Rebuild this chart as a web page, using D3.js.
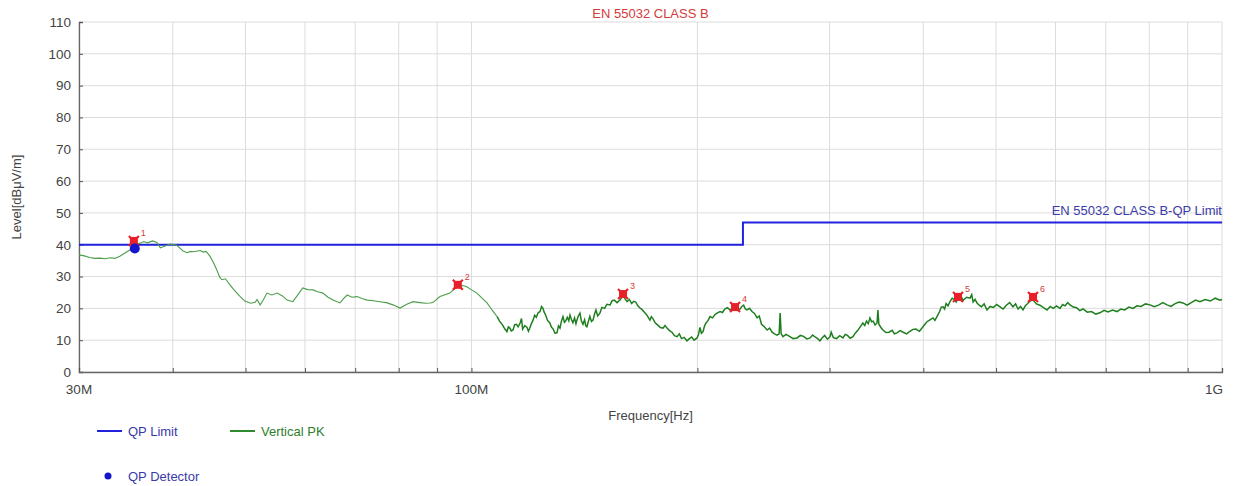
<!DOCTYPE html>
<html><head><meta charset="utf-8">
<script src="https://cdn.jsdelivr.net/npm/d3@7"></script>
<style>
body{margin:0;background:#fff;}
text{font-family:"Liberation Sans",Arial,sans-serif;}
</style></head>
<body><svg id="c" width="1239" height="486"></svg>
<script>
// ---- data ----
const titleText = "EN 55032 CLASS B";
const limitLabel = "EN 55032 CLASS B-QP Limit";
const yTicks = [0,10,20,30,40,50,60,70,80,90,100,110];
const xGridMHz = [30,40,50,60,70,80,90,100,200,300,400,500,600,700,800,900,1000];
const xTickLabels = [[30,"30M"],[100,"100M"],[1000,"1G"]];
const qpLimit = [[30,40],[230,40],[230,47],[1000,47]];
const qpDetector = [[35.6,38.8]];
const peakMarkers = [[35.5,41.2,"1"],[95.9,27.4,"2"],[159.2,24.5,"3"],[224.5,20.4,"4"],[444.9,23.6,"5"],[560.0,23.6,"6"]];
const verticalPK = [
[30.0,36.8],[30.5,36.5],[31.0,36.0],[31.5,35.7],[32.0,35.8],[32.5,35.6],[33.0,35.9],[33.5,35.7],[34.0,36.4],[34.5,37.3],
[35.1,38.4],[35.6,40.0],[36.2,40.5],[36.6,41.0],[37.0,40.6],[37.6,41.2],[38.1,40.7],[38.5,39.0],[39.1,39.6],[39.7,40.2],
[40.5,39.8],[41.3,38.0],[41.8,37.5],[42.2,37.9],[42.6,37.8],[43.5,38.2],[43.9,37.7],[44.3,37.9],[44.8,36.5],[45.3,34.5],
[45.8,32.0],[46.2,29.8],[46.5,29.0],[47.0,29.3],[47.7,27.3],[48.2,26.0],[48.7,24.8],[49.2,23.7],[49.9,22.3],[50.2,22.1],
[50.8,21.6],[51.5,21.9],[51.8,22.8],[52.3,21.1],[52.8,22.6],[53.4,24.8],[54.2,24.2],[55.1,24.8],[56.0,23.9],[56.8,22.6],
[57.8,22.1],[58.6,24.0],[59.6,26.4],[60.5,25.9],[61.5,25.8],[62.4,25.2],[63.4,24.8],[64.4,23.5],[65.4,22.6],[66.8,21.7],
[67.5,23.0],[68.3,24.2],[69.3,23.5],[70.4,23.7],[71.5,23.1],[72.6,22.6],[74.0,22.4],[75.5,22.1],[77.0,21.8],[78.6,21.1],
[80.3,20.1],[82.0,21.3],[83.6,22.1],[85.4,21.8],[86.8,21.6],[88.1,21.7],[88.9,21.9],[90.8,23.7],[92.2,24.3],[93.6,24.8],
[95.0,26.2],[96.0,27.0],[97.3,27.2],[98.6,26.8],[100.0,25.8],[101.7,24.8],[103.3,23.2],[104.9,21.7],[106.5,19.5],
[108.2,17.4],[109.0,16.0],[110.0,14.8],[110.8,13.5],[111.5,12.7],[112.0,14.2],[112.5,13.8],[113.0,12.9],[113.6,13.2],[114.2,14.9],
[114.8,15.0],[115.4,14.2],[116.1,15.4],[116.6,16.8],[117.0,13.5],[117.8,14.6],[118.6,14.0],[119.1,12.8],[119.5,13.6],[120.2,15.2],
[120.8,16.3],[121.4,17.8],[122.0,17.2],[122.7,18.6],[123.4,19.0],[124.0,20.6],[124.5,20.1],[125.0,18.8],[125.5,18.0],[126.3,16.2],
[127.2,15.4],[127.8,14.1],[128.5,13.5],[129.2,12.2],[130.0,12.3],[130.6,14.5],[131.2,13.8],[131.8,16.0],[132.4,17.4],[133.0,15.6],
[133.5,16.0],[134.2,17.2],[134.8,16.1],[135.3,17.9],[135.9,16.5],[136.5,15.5],[137.2,17.0],[137.8,15.2],[138.2,16.3],[138.8,17.6],
[139.5,18.5],[140.1,16.1],[140.8,15.0],[141.5,16.4],[142.0,14.6],[142.5,14.2],[143.1,15.8],[143.8,17.5],[144.5,15.9],[145.2,16.3],
[145.8,18.0],[146.5,19.5],[147.3,17.6],[148.3,18.5],[149.2,20.3],[150.5,20.0],[151.5,21.3],[153.0,21.1],[154.0,22.4],[155.0,22.6],
[156.3,21.8],[157.7,22.6],[158.5,23.4],[159.2,24.2],[160.2,23.0],[161.2,22.1],[162.3,22.8],[163.5,21.5],[164.5,22.2],[165.5,22.0],
[166.6,20.8],[167.7,20.1],[168.8,19.6],[170.0,18.8],[171.4,17.8],[172.9,16.3],[173.7,17.4],[174.5,16.8],[175.8,15.4],[177.0,14.8],
[178.5,14.0],[180.0,13.8],[181.1,14.6],[182.2,13.8],[183.6,13.0],[185.0,12.5],[186.4,11.4],[187.9,11.1],[189.2,12.0],[190.5,10.5],
[192.0,10.9],[193.7,9.8],[195.0,10.4],[196.5,11.0],[198.0,10.0],[199.8,10.7],[200.7,11.8],[201.6,14.0],[202.5,12.2],[203.5,12.7],
[204.5,14.6],[205.5,15.5],[206.7,16.2],[207.9,17.4],[209.5,17.0],[211.0,18.0],[212.7,18.6],[214.4,19.0],[216.0,18.7],[217.5,19.8],
[219.3,20.2],[221.1,19.5],[222.8,20.0],[224.5,20.5],[226.2,19.6],[228.0,19.8],[229.2,20.6],[230.5,21.0],[231.7,19.8],[232.9,19.5],
[234.7,20.0],[236.5,19.0],[238.3,18.4],[240.2,17.0],[241.8,17.6],[243.5,15.0],[245.6,14.2],[247.7,13.2],[249.6,13.8],[251.5,12.5],
[253.4,12.0],[255.4,11.6],[257.0,12.0],[257.8,18.5],[258.6,12.0],[260.1,11.1],[262.5,11.8],[265.0,11.3],[268.3,10.5],[271.6,10.7],
[274.3,11.5],[277.0,11.2],[279.8,10.4],[282.6,10.7],[284.8,11.6],[287.0,11.0],[289.2,10.5],[291.3,9.8],[293.4,10.8],[295.5,11.5],
[298.0,10.3],[300.4,11.1],[301.5,12.5],[303.5,10.8],[306.5,10.5],[309.5,11.4],[312.6,10.7],[314.8,11.8],[317.0,11.5],[319.6,10.6],
[322.3,11.1],[324.6,12.2],[327.0,13.0],[329.6,14.2],[332.3,15.4],[334.2,14.6],[336.0,16.0],[337.8,15.2],[339.6,17.0],[341.3,15.8],
[343.0,16.0],[345.0,14.8],[347.0,15.4],[348.0,19.5],[349.0,15.0],[351.2,14.0],[353.4,13.2],[356.6,12.4],[360.0,12.5],[363.5,13.1],
[366.0,12.0],[369.0,12.3],[372.5,13.0],[376.0,12.5],[380.0,12.0],[383.9,12.8],[387.5,13.4],[391.0,13.5],[395.3,12.8],[399.6,14.2],
[402.0,15.0],[404.5,15.8],[408.2,16.4],[412.0,17.0],[414.5,16.2],[417.1,17.4],[420.5,19.0],[422.7,20.4],[424.9,20.5],[427.0,19.8],
[429.0,21.5],[431.5,20.8],[434.1,22.1],[437.0,23.2],[440.0,22.8],[442.5,22.0],[444.9,23.2],[448.5,24.0],[452.0,22.5],[456.8,23.5],
[461.6,23.2],[464.0,24.3],[466.0,22.0],[468.8,22.8],[471.6,21.7],[474.8,21.0],[478.0,20.5],[482.0,21.4],[486.3,19.5],[491.0,20.6],
[496.0,20.3],[501.0,21.2],[506.1,20.5],[511.0,19.8],[516.0,21.0],[521.3,21.8],[526.6,20.5],[530.8,21.4],[535.0,19.8],[539.0,20.6],
[543.1,19.5],[547.0,20.8],[551.0,21.5],[555.5,22.4],[560.0,22.6],[566.0,21.4],[572.0,21.0],[578.3,20.2],[584.6,19.5],[590.3,20.6],
[596.0,20.0],[602.0,20.8],[608.4,20.0],[613.2,21.2],[618.0,20.8],[622.7,21.8],[627.4,21.1],[633.7,20.4],[640.0,20.2],[646.4,19.3],
[652.9,19.8],[661.4,18.8],[670.0,19.0],[678.9,18.2],[687.8,18.6],[696.4,19.4],[705.0,18.9],[714.8,19.5],[724.6,19.0],[733.3,19.8],
[742.0,19.5],[751.5,20.4],[761.1,20.0],[770.5,20.8],[780.0,20.6],[790.9,21.4],[801.8,21.1],[812.4,20.5],[823.0,21.0],[833.9,21.8],
[844.7,21.1],[855.3,20.6],[866.0,21.5],[876.6,22.0],[887.2,21.7],[898.6,21.0],[910.0,21.8],[922.3,22.6],[934.6,22.1],[949.8,22.8],
[965.0,22.3],[979.3,23.2],[993.6,22.6],[1000.0,22.8]
];
const legendItems = [["QP Limit","line","#2222dd","#3a3aa8"],["Vertical PK","line","#2e8b2e","#2e7d2e"],["QP Detector","dot","#1515cc","#3a3aa8"]];

// ---- chart ----
const W=1239,H=486,m={l:79,r:17,t:22,b:114};
const svg=d3.select("#c");
const x=d3.scaleLog().domain([30,1000]).range([m.l,W-m.r]);
const y=d3.scaleLinear().domain([0,110]).range([H-m.b,m.t]);

// grid
svg.append("g").selectAll("line").data(yTicks).join("line")
 .attr("x1",m.l).attr("x2",W-m.r).attr("y1",d=>y(d)).attr("y2",d=>y(d))
 .attr("stroke","#dcdcdc").attr("stroke-width",1);
svg.append("g").selectAll("line").data(xGridMHz).join("line")
 .attr("x1",d=>x(d)).attr("x2",d=>x(d)).attr("y1",m.t).attr("y2",H-m.b)
 .attr("stroke","#dcdcdc").attr("stroke-width",1);

// axes
const yAxis=svg.append("g").attr("transform",`translate(${m.l},0)`)
 .call(d3.axisLeft(y).tickValues(yTicks).tickSize(-4).tickPadding(8).tickFormat(d3.format("d")));
const xAxis=svg.append("g").attr("transform",`translate(0,${H-m.b})`)
 .call(d3.axisBottom(x).tickValues(xGridMHz).tickSize(-4).tickFormat(()=>""));
[yAxis,xAxis].forEach(a=>{a.select(".domain").attr("stroke","#666").attr("stroke-width",1.3);
 a.selectAll(".tick line").attr("stroke","#555");});
yAxis.selectAll(".tick text").attr("font-size",13.5).attr("fill","#444").attr("font-family","Liberation Sans, Arial");
svg.append("g").selectAll("text").data(xTickLabels).join("text")
 .attr("x",d=>d[0]===1000?x(d[0])+1:x(d[0])).attr("y",H-m.b+22)
 .attr("text-anchor",d=>d[0]===1000?"end":"middle")
 .attr("font-size",13.5).attr("fill","#444").text(d=>d[1]);

// titles
svg.append("text").attr("x",(m.l+W-m.r)/2).attr("y",18).attr("text-anchor","middle")
 .attr("font-size",13).attr("fill","#d43a3a").text(titleText);
svg.append("text").attr("x",(m.l+W-m.r)/2).attr("y",420).attr("text-anchor","middle")
 .attr("font-size",13).attr("fill","#444").text("Frequency[Hz]");
svg.append("text").attr("transform",`translate(21,${(m.t+H-m.b)/2}) rotate(-90)`).attr("text-anchor","middle")
 .attr("font-size",13).attr("fill","#444").text("Level[dBμV/m]");

// limit
const line=d3.line().x(d=>x(d[0])).y(d=>y(d[1]));
svg.append("path").datum(qpLimit).attr("d",line).attr("fill","none").attr("stroke","#2222dd").attr("stroke-width",2);
svg.append("text").attr("x",x(1000)).attr("y",y(47)-7).attr("text-anchor","end")
 .attr("font-size",13).attr("fill","#3a3aa8").text(limitLabel);

// trace: smoother low band drawn thin/light, noisy high band drawn denser/darker
svg.append("path").datum(verticalPK.filter(d=>d[0]<=108.2)).attr("d",line).attr("fill","none").attr("stroke","#4a9e4a").attr("stroke-width",1.1);
svg.append("path").datum(verticalPK.filter(d=>d[0]>=108.2)).attr("d",line).attr("fill","none").attr("stroke","#1f7f1f").attr("stroke-width",1.5);

// peak markers
const pk=svg.append("g").selectAll("g").data(peakMarkers).join("g")
 .attr("transform",d=>`translate(${x(d[0])},${y(d[1])})`);
pk.append("rect").attr("x",-4).attr("y",-4).attr("width",8).attr("height",8).attr("fill","#e8202a");
pk.append("path").attr("d","M-5,-5L5,5M-5,5L5,-5").attr("stroke","#e8202a").attr("stroke-width",2.2);
pk.append("text").attr("x",7).attr("y",-5).attr("font-size",9).attr("fill","#d43a3a").text(d=>d[2]);

// QP detector
svg.append("g").selectAll("circle").data(qpDetector).join("circle")
 .attr("cx",d=>x(d[0])).attr("cy",d=>y(d[1])).attr("r",5).attr("fill","#1515cc");

// legend
const lgPos=[[97,431],[230,431],[97,476]];
legendItems.forEach((it,i)=>{
 const [lx,ly]=lgPos[i];
 if(it[1]==="line") svg.append("line").attr("x1",lx).attr("x2",lx+25).attr("y1",ly).attr("y2",ly).attr("stroke",it[2]).attr("stroke-width",2);
 else svg.append("circle").attr("cx",lx+11).attr("cy",ly).attr("r",3.5).attr("fill",it[2]);
 svg.append("text").attr("x",lx+31).attr("y",ly+5).attr("font-size",13).attr("fill",it[3]).text(it[0]);
});
</script></body></html>
